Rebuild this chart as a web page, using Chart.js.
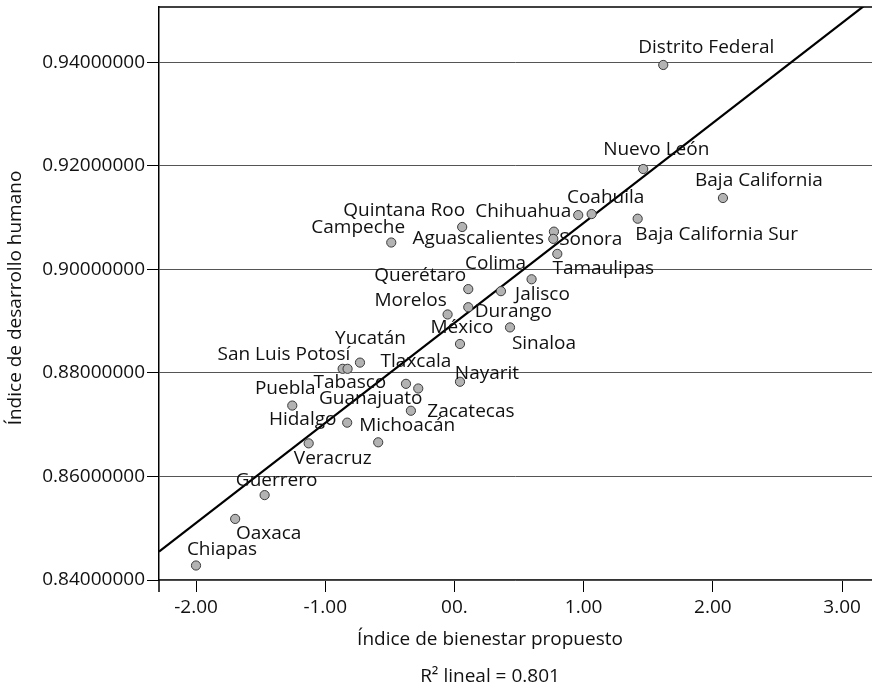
<!DOCTYPE html>
<html><head><meta charset="utf-8">
<script src="https://cdn.jsdelivr.net/npm/chart.js@4/dist/chart.umd.min.js"></script>
<style>html,body{margin:0;padding:0;background:#fff;}#wrap{width:872px;height:689px;position:relative;}</style>
</head><body><div id="wrap"><canvas id="c" width="872" height="689"></canvas></div>
<script>
const states = ["Aguascalientes","Baja California","Baja California Sur","Campeche","Coahuila","Colima","Chiapas","Chihuahua","Distrito Federal","Durango","Guanajuato","Guerrero","Hidalgo","Jalisco","México","Michoacán","Morelos","Nayarit","Nuevo León","Oaxaca","Puebla","Querétaro","Quintana Roo","San Luis Potosí","Sinaloa","Sonora","Tabasco","Tamaulipas","Tlaxcala","Veracruz","Yucatán","Zacatecas"];
const bienestar = [0.770,2.078,1.418,-0.489,1.062,0.597,-2.000,0.958,1.616,0.107,-0.280,-1.469,-0.830,0.360,0.043,-0.590,-0.053,0.043,1.461,-1.697,-1.255,0.107,0.060,-0.865,0.430,0.765,-0.827,0.796,-0.375,-1.128,-0.731,-0.337];
const idh = [0.9073,0.9138,0.9098,0.9052,0.9107,0.8981,0.8428,0.9105,0.9395,0.8927,0.8770,0.8564,0.8704,0.8958,0.8856,0.8666,0.8913,0.8783,0.9194,0.8518,0.8737,0.8962,0.9082,0.8808,0.8888,0.9059,0.8808,0.9030,0.8779,0.8664,0.8820,0.8727];
const xTickValues = [-2,-1,0,1,2,3];
const xTickLabels = ["-2.00","-1.00","00.","1.00","2.00","3.00"];
const yTickValues = [0.84,0.86,0.88,0.90,0.92,0.94];
const yTickLabels = ["0.84000000","0.86000000","0.88000000","0.90000000","0.92000000","0.94000000"];
const fitX = [-2.2864, 3.2315];
const fitY = [0.8455, 0.9521];
const xTitle = "Índice de bienestar propuesto";
const yTitle = "Índice de desarrollo humano";
const note = "R² lineal = 0.801";

// label placement (pixel offsets of label centre from its point)
const labelOffsets = {
 "Aguascalientes":[-75.7,7.3],"Baja California":[36,-17],"Baja California Sur":[79,16],"Campeche":[-33,-15],
 "Coahuila":[14,-16],"Colima":[-36,-16],"Chiapas":[26,-16],"Chihuahua":[-55,-3],"Distrito Federal":[43,-17],
 "Durango":[45,4],"Guanajuato":[-47.5,10],"Guerrero":[12,-15],"Hidalgo":[-44.5,-3],"Jalisco":[41.5,3],
 "México":[2,-16],"Michoacán":[29,-17],"Morelos":[-37,-14],"Nayarit":[27,-8],"Nuevo León":[13,-19],
 "Oaxaca":[33.5,15],"Puebla":[-7,-17],"Querétaro":[-48,-14],"Quintana Roo":[-58,-16],"San Luis Potosí":[-58.7,-14],
 "Sinaloa":[34,16],"Sonora":[37.5,1],"Tabasco":[2.3,14],"Tamaulipas":[46,15],"Tlaxcala":[10,-22],
 "Veracruz":[24,15],"Yucatán":[10.5,-24],"Zacatecas":[60,1]
};
const FONT = '"Open Sans", "Noto Sans", sans-serif';

const decor = {
  id: 'decor',
  afterDatasetsDraw(chart) {
    const {ctx, chartArea: a, scales: {x, y}} = chart;
    ctx.save();
    ctx.strokeStyle = '#000'; ctx.lineWidth = 1.5;
    ctx.beginPath(); ctx.moveTo(a.left, a.top); ctx.lineTo(a.right, a.top); ctx.stroke();
    ctx.beginPath(); ctx.moveTo(a.left, a.bottom); ctx.lineTo(a.left, a.bottom + 12); ctx.stroke();
    ctx.font = '19px ' + FONT; ctx.fillStyle = '#111';
    ctx.textAlign = 'center'; ctx.textBaseline = 'middle';
    states.forEach((s, i) => {
      const px = x.getPixelForValue(bienestar[i]);
      const py = y.getPixelForValue(idh[i]);
      const o = labelOffsets[s] || [0, -15];
      ctx.fillText(s, px + o[0], py + o[1]);
    });
    ctx.fillText(xTitle, 490, 640);
    ctx.fillText(note, 490, 677);
    ctx.translate(16, 298); ctx.rotate(-Math.PI / 2);
    ctx.fillText(yTitle, 0, 0);
    ctx.restore();
  }
};

new Chart(document.getElementById('c'), {
  type: 'scatter',
  data: {
    datasets: [
      { type: 'line', data: fitX.map((v, i) => ({x: v, y: fitY[i]})), borderColor: '#000', borderWidth: 2.2, pointRadius: 0, fill: false, order: 2 },
      { data: bienestar.map((v, i) => ({x: v, y: idh[i]})), pointRadius: 4.6, pointHoverRadius: 4.6, backgroundColor: '#b3b3b3', borderColor: '#3a3a3a', borderWidth: 1, order: 1 }
    ]
  },
  options: {
    responsive: false, animation: false, devicePixelRatio: 1,
    layout: { autoPadding: false, padding: { top: 7, left: 0, right: 0, bottom: 0 } },
    plugins: { legend: { display: false }, tooltip: { enabled: false } },
    scales: {
      x: {
        type: 'linear', min: -2.2864, max: 3.2315,
        afterFit: s => { s.height = 109; s.paddingLeft = 0; s.paddingRight = 0; },
        afterBuildTicks: s => { s.ticks = xTickValues.map(v => ({value: v})); },
        ticks: { autoSkip: false, maxRotation: 0, padding: 4, color: '#111', font: { family: FONT, size: 19 },
          callback: (v) => { const i = xTickValues.indexOf(v); return i >= 0 ? xTickLabels[i] : ''; } },
        grid: { drawOnChartArea: false, drawTicks: true, tickLength: 12, tickColor: '#000', tickWidth: 1 },
        border: { display: true, color: '#333', width: 1.2 }
      },
      y: {
        type: 'linear', min: 0.84, max: 0.9507,
        afterFit: s => { s.width = 159; s.paddingTop = 0; s.paddingBottom = 0; },
        afterBuildTicks: s => { s.ticks = yTickValues.map(v => ({value: v})); },
        ticks: { autoSkip: false, padding: 2, color: '#111', font: { family: FONT, size: 19 },
          callback: (v) => { const i = yTickValues.findIndex(t => Math.abs(t - v) < 1e-9); return i >= 0 ? yTickLabels[i] : ''; } },
        grid: { color: '#555', lineWidth: 1, drawTicks: true, tickLength: 12, tickColor: '#000' },
        border: { display: true, color: '#000', width: 1.5 }
      }
    }
  },
  plugins: [decor]
});
</script></body></html>
